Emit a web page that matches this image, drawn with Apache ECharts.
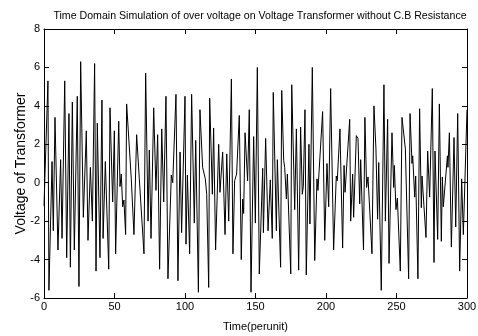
<!DOCTYPE html>
<html><head><meta charset="utf-8">
<script src="https://cdn.jsdelivr.net/npm/echarts@6/dist/echarts.min.js"></script>
<style>html,body{margin:0;padding:0;background:#fff}#c{width:478px;height:336px}</style>
</head><body><div id="c"></div>
<script>
var titleText = "Time Domain Simulation of over voltage on Voltage Transformer without C.B Resistance";
var xName = "Time(perunit)";
var yName = "Voltage of Transformer";
var xTicks = [0, 50, 100, 150, 200, 250, 300];
var yTicks = [-6, -4, -2, 0, 2, 4, 6, 8];

var times = [
0,2.8,3.5,5.7,6.6,7.8,8.8,9.9,11.8,12.8,14.7,16.1,17.7,18.7,20.1,21.5,23.6,24.8,26.0,27.9,
30.0,31.2,32.9,34.3,35.9,36.9,37.8,39.7,41.1,41.9,43.5,45.9,46.8,48.7,49.9,50.8,53.0,53.9,54.8,55.8,
56.7,57.9,58.6,61.9,63.8,65.7,67.6,68.8,70.9,72.1,73.8,74.7,75.9,77.8,79.4,80.6,82.0,83.5,84.9,86.5,
87.9,90.3,91.3,93.6,95.0,96.5,97.6,100.0,100.7,101.7,102.4,103.3,104.7,106.6,107.6,109.5,110.6,112.5,114.4,115.4,
116.8,117.5,119.4,120.3,121.7,123.9,124.8,126.7,128.4,129.6,131.0,132.9,134.0,135.2,136.6,138.5,139.9,140.9,141.6,142.6,
144.4,145.6,146.8,148.7,149.9,151.3,152.7,155.1,155.6,157.2,158.0,158.9,160.5,161.9,162.6,164.8,165.5,167.8,168.6,170.0,
170.7,171.9,172.6,175.0,175.7,177.8,179.0,180.6,182.0,183.2,183.9,185.1,186.0,187.9,188.6,190.3,192.0,193.6,194.3,197.6,
199.1,200.7,201.9,203.3,205.4,207.3,208.0,209.9,211.8,212.8,213.5,216.8,217.5,218.9,219.6,221.5,222.7,223.9,224.6,226.6,
227.6,228.8,229.8,232.6,234.0,235.4,236.6,237.4,239.2,241.1,242.1,243.7,244.7,246.8,248.0,248.5,249.6,250.6,252.7,253.9,
256.3,258.6,259.6,261.0,261.5,262.9,263.6,265.2,266.4,267.6,268.1,269.0,270.9,272.1,273.5,275.4,276.6,277.3,279.2,280.4,
281.8,282.5,283.2,286.1,286.5,287.5,288.9,290.8,292.0,293.4,294.8,296.2,297.4,300.0
];
var volts = [
-1.2,5.3,-5.6,1.1,-2.5,3.4,3.4,-3.5,1.2,-2.9,5.3,-3.9,3.6,-4.4,4.2,-3.5,4.5,-5.4,6.3,-1.8,
2.7,-3.0,0.8,-2.0,6.2,-4.6,3.1,-3.9,4.3,-2.9,1.1,-4.5,3.9,-1.0,2.7,-3.7,3.2,-0.2,0.45,-1.25,
-0.9,-2.7,4.1,0.2,-2.7,2.5,0.2,0.1,-3.7,5.7,-2.0,1.7,-2.9,3.9,-0.4,2.5,-4.5,2.8,-1.0,4.5,
-5.0,0.4,0.0,4.6,-5.1,1.6,-2.6,4.5,-3.2,0.4,0.3,-3.7,4.6,-2.1,2.2,-5.7,3.8,0.8,0.2,-0.6,
-5.45,4.4,-0.6,2.85,-3.5,2.0,-0.5,1.6,-2.7,1.5,-2.0,5.4,-3.7,0.1,0.45,3.5,-4.0,-0.85,-1.6,2.6,
0.1,3.8,-5.7,2.4,-2.1,6.0,-4.75,0.75,-2.6,2.3,2.3,-2.5,0.15,-2.9,4.7,-2.5,1.2,-4.4,4.8,1.15,
0.8,-0.85,0.45,-4.75,5.1,-1.4,2.8,-4.55,2.9,-0.6,-0.2,3.8,-4.8,2.0,-2.15,6.0,-4.05,0.2,-0.4,3.7,
-3.0,1.0,-1.25,4.9,-3.5,0.35,0.1,2.8,-3.4,0.9,-0.5,3.3,-2.0,0.45,-1.8,2.45,2.3,-1.1,1.2,-3.5,
3.4,-0.25,0.3,-3.7,4.0,1.8,-1.9,1.05,-5.6,5.1,-2.0,3.3,-4.2,2.6,-0.25,0.9,-1.4,-0.8,-4.6,3.4,
1.75,-5.0,3.6,1.0,1.4,-0.75,0.35,-5.0,3.85,-1.3,0.35,0.3,-2.85,1.65,-0.75,4.9,-4.15,1.65,-2.95,4.1,
-3.05,0.3,-1.25,1.4,0.8,2.6,-3.35,2.35,-2.3,3.6,-4.6,0.2,-2.7,3.8
];

var pts = times.map(function(t, i){ return [t, volts[i]]; });
var font = "'Liberation Sans', Arial, sans-serif";
var chart = echarts.init(document.getElementById('c'), null, {renderer: 'canvas'});
var axisBase = {
  axisLine: {show: true, onZero: false, lineStyle: {color: '#000', width: 1}},
  axisTick: {show: true, inside: true, length: 5, lineStyle: {color: '#000'}},
  splitLine: {show: false}
};
chart.setOption({
  animation: false,
  backgroundColor: '#fff',
  title: {
    text: titleText, left: 255, top: 6, textAlign: 'center',
    textStyle: {fontFamily: font, fontSize: 10.6, fontWeight: 'normal', color: '#000'}
  },
  grid: {left: 44, right: 11, top: 29, bottom: 38, containLabel: false, outerBoundsMode: 'none'},
  xAxis: [
    Object.assign({type: 'value', min: xTicks[0], max: xTicks[xTicks.length-1], interval: 50, position: 'bottom',
      name: xName, nameLocation: 'middle', nameGap: 23, nameMoveOverlap: false,
      nameTextStyle: {fontFamily: font, fontSize: 11, color: '#000'},
      axisLabel: {fontFamily: font, fontSize: 11, color: '#000', margin: 3}}, axisBase),
    Object.assign({type: 'value', min: xTicks[0], max: xTicks[xTicks.length-1], interval: 50, position: 'top',
      axisLabel: {show: false}}, axisBase)
  ],
  yAxis: [
    Object.assign({type: 'value', min: yTicks[0], max: yTicks[yTicks.length-1], interval: 2, position: 'left',
      name: yName, nameLocation: 'middle', nameGap: 16, nameMoveOverlap: false,
      nameTextStyle: {fontFamily: font, fontSize: 14, color: '#000'},
      axisLabel: {fontFamily: font, fontSize: 11, color: '#000', margin: 4}}, axisBase),
    Object.assign({type: 'value', min: yTicks[0], max: yTicks[yTicks.length-1], interval: 2, position: 'right',
      axisLabel: {show: false}}, axisBase)
  ],
  series: [{
    type: 'line', data: pts, xAxisIndex: 0, yAxisIndex: 0,
    showSymbol: false, symbol: 'none',
    lineStyle: {color: '#000', width: 1}
  }]
});
</script></body></html>
